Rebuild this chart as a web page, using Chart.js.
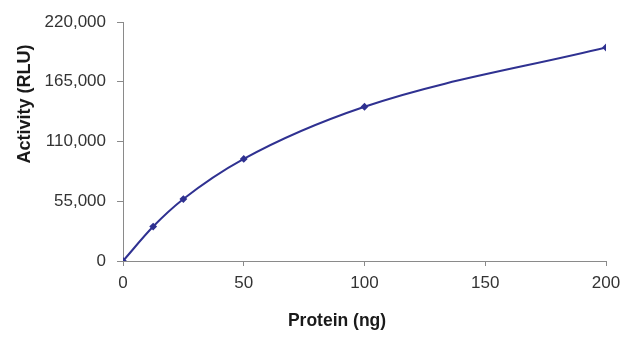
<!DOCTYPE html>
<html>
<head>
<meta charset="utf-8">
<script src="https://cdn.jsdelivr.net/npm/chart.js@4"></script>
<style>
    body { margin: 0; background: #fff; }
    #wrap { width: 640px; height: 338px; }
</style>
</head>
<body>
<div id="wrap"><canvas id="lineChart" width="640" height="338"></canvas></div>
<script>
// Values
const proteinNg = [0, 12.5, 25, 50, 100, 200];
const activityRlu = [0, 31700, 57000, 94000, 142000, 196500];
const xTicks = [0, 50, 100, 150, 200];
const yTicks = [0, 55000, 110000, 165000, 220000];
const xTitle = 'Protein (ng)';
const yTitle = 'Activity (RLU)';

const lineColor = '#2f3191';
const axisColor = '#8a8a8a';
const textColor = '#333333';
const titleColor = '#1a1a1a';

const points = proteinNg.map((x, i) => ({ x: x, y: activityRlu[i] }));

// Axis titles sit off-centre in the original, so draw them by hand
const axisTitles = {
    id: 'axisTitles',
    afterDraw(chart) {
        const c = chart.ctx;
        c.save();
        c.fillStyle = titleColor;
        c.textAlign = 'center';
        c.textBaseline = 'middle';
        c.font = 'bold 17.5px "Liberation Sans", Arial';
        c.fillText(xTitle, 337, 321);
        c.translate(25, 104);
        c.rotate(-Math.PI / 2);
        c.font = 'bold 18px "Liberation Sans", Arial';
        c.fillText(yTitle, 0, 0);
        c.restore();
    }
};

const ctx = document.getElementById('lineChart').getContext('2d');

const config = {
    type: 'line',
    data: {
        datasets: [{
            label: 'Activity',
            data: points,
            borderColor: lineColor,
            backgroundColor: lineColor,
            borderWidth: 2,
            pointStyle: 'rectRot',
            pointRadius: 2.5,
            cubicInterpolationMode: 'monotone',
            fill: false,
        }]
    },
    options: {
        responsive: false,
        animation: false,
        layout: {
            padding: { top: 22, right: 34, left: 0, bottom: 0 }
        },
        plugins: {
            legend: { display: false },
            tooltip: { enabled: false },
        },
        scales: {
            x: {
                type: 'linear',
                min: xTicks[0],
                max: xTicks[xTicks.length - 1],
                afterBuildTicks: (scale) => { scale.ticks = xTicks.map(v => ({ value: v })); },
                afterFit: (scale) => { scale.height = 77; },
                border: { color: axisColor, width: 1 },
                grid: { drawOnChartArea: false, color: axisColor, tickLength: 5 },
                ticks: {
                    color: textColor,
                    padding: 7,
                    font: { family: 'Liberation Sans, Arial', size: 17 },
                },
            },
            y: {
                min: yTicks[0],
                max: yTicks[yTicks.length - 1],
                afterBuildTicks: (scale) => { scale.ticks = yTicks.map(v => ({ value: v })); },
                afterFit: (scale) => { scale.width = 123; },
                border: { color: axisColor, width: 1 },
                grid: { drawOnChartArea: false, color: axisColor, tickLength: 6 },
                ticks: {
                    color: textColor,
                    padding: 11,
                    font: { family: 'Liberation Sans, Arial', size: 17 },
                    callback: (v) => v.toLocaleString('en-US'),
                },
            }
        }
    },
    plugins: [axisTitles]
};

new Chart(ctx, config);
</script>
</body>
</html>
